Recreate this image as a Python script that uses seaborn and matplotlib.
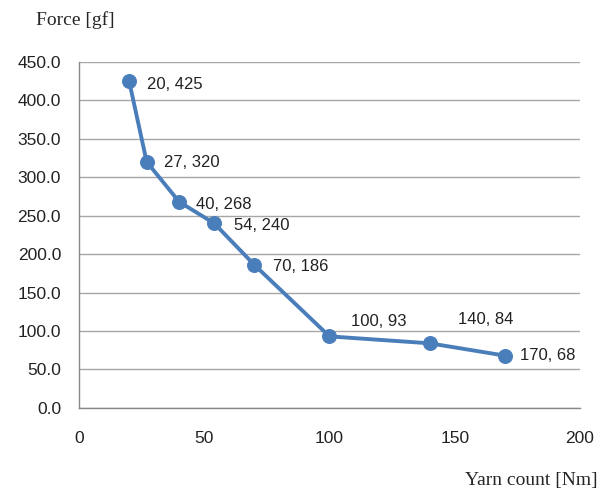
import matplotlib
matplotlib.use("Agg")
import matplotlib.pyplot as plt
import seaborn as sns
import pandas as pd

# data
yarn_count = [20, 27, 40, 54, 70, 100, 140, 170]
force = [425, 320, 268, 240, 186, 93, 84, 68]
# label offsets in pixels (dx, dy) relative to each point
label_dx = [18, 17, 17, 20, 19, 22, 28, 15]
label_dy = [-3, -1, -3, -2, -2, 15, 24, 0]

sns.set_style("white")
plt.rcParams['font.family'] = ['Liberation Sans', 'DejaVu Sans']

df = pd.DataFrame({"Yarn count": yarn_count, "Force": force})

fig = plt.figure(figsize=(6.13, 4.92), dpi=100)
ax = fig.add_axes([0.129, 0.171, 0.817, 0.703])

blue = "#4a7ebb"
sns.lineplot(data=df, x="Yarn count", y="Force", ax=ax, color=blue,
             linewidth=2.8, marker="o", markersize=10,
             markeredgecolor=blue, markerfacecolor=blue)

for x, y, dx, dy in zip(yarn_count, force, label_dx, label_dy):
    ax.annotate(f"{x}, {y}", (x, y), xytext=(dx, dy), textcoords="offset pixels",
                ha="left", va="center", fontsize=12, color="#222222")

ax.set_xlim(0, 200)
ax.set_ylim(0, 450)
ax.set_xticks([0, 50, 100, 150, 200])
ax.set_yticks(range(0, 451, 50))
ax.set_yticklabels([f"{v:.1f}" for v in range(0, 451, 50)])
ax.grid(axis="y", color="#a6a6a6", linewidth=1)
ax.set_axisbelow(True)

for side in ["top", "right"]:
    ax.spines[side].set_visible(False)
for side in ["left", "bottom"]:
    ax.spines[side].set_color("#888888")
    ax.spines[side].set_linewidth(1)

ax.tick_params(axis="both", which="both", length=5, width=1, color="#888888",
               labelsize=12.5, labelcolor="#222222", direction="out")
ax.tick_params(axis="x", pad=12)
ax.tick_params(axis="y", pad=8)

ax.set_xlabel("")
ax.set_ylabel("")
fig.text(36 / 613, 1 - 20 / 492, "Force [gf]", family="Liberation Serif",
         fontsize=14, ha="left", va="center")
fig.text(598 / 613, 1 - 480 / 492, "Yarn count [Nm]", family="Liberation Serif",
         fontsize=14, ha="right", va="center")

fig.savefig("out.png", dpi=100)
